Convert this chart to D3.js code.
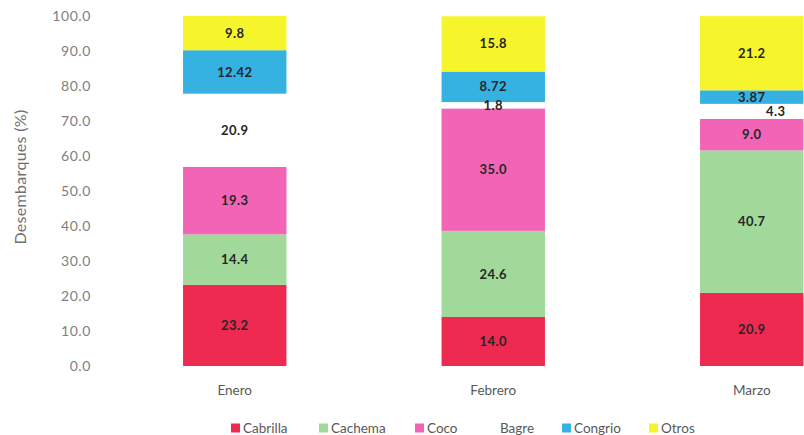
<!DOCTYPE html>
<html>
<head>
<meta charset="utf-8">
<script src="https://cdn.jsdelivr.net/npm/d3@7"></script>
<style>
  body { margin: 0; background: #fff; }
  svg { font-family: Lato, "Open Sans", sans-serif; }
</style>
</head>
<body>
<svg id="chart" width="804" height="435"></svg>
<script>
// data
var months = ["Enero", "Febrero", "Marzo"];
var species = ["Cabrilla", "Cachema", "Coco", "Bagre", "Congrio", "Otros"];
var cabrilla = [23.2, 14.0, 20.9];
var cachema = [14.4, 24.6, 40.7];
var coco = [19.3, 35.0, 9.0];
var bagre = [20.9, 1.8, 4.3];
var congrio = [12.42, 8.72, 3.87];
var otros = [9.8, 15.8, 21.2];
var labels = [
  ["23.2", "14.0", "20.9"],
  ["14.4", "24.6", "40.7"],
  ["19.3", "35.0", "9.0"],
  ["20.9", "1.8", "4.3"],
  ["12.42", "8.72", "3.87"],
  ["9.8", "15.8", "21.2"]
];
var yTicks = [0, 10, 20, 30, 40, 50, 60, 70, 80, 90, 100];
var colors = ["#ef2a50", "#a1d99b", "#f265b6", "#ffffff", "#35b1e2", "#f6f52c"];

var series = [cabrilla, cachema, coco, bagre, congrio, otros];

// build rows for stack
var rows = months.map(function (m, i) {
  var r = { month: m };
  species.forEach(function (s, j) { r[s] = series[j][i]; });
  return r;
});

var stack = d3.stack().keys(species);
var stacked = stack(rows);

var svg = d3.select("#chart");

var x = d3.scaleBand()
    .domain(months)
    .range([105.5, 881])
    .paddingInner(0.6)
    .paddingOuter(0.3);

var y = d3.scaleLinear()
    .domain([0, 100])
    .range([366, 16]);

// y axis (no line, just labels)
var yAxis = d3.axisLeft(y)
    .tickValues(yTicks)
    .tickFormat(d3.format(".1f"))
    .tickSize(0)
    .tickPadding(0);

var gy = svg.append("g")
    .attr("transform", "translate(91,0)")
    .call(yAxis);
gy.select(".domain").remove();
gy.selectAll("text")
    .attr("fill", "#808080")
    .style("font-family", "Lato, sans-serif")
    .style("font-size", "14px")
    .style("letter-spacing", "0.6px");

svg.append("text")
    .attr("transform", "translate(26," + 177 + ") rotate(-90)")
    .attr("text-anchor", "middle")
    .attr("fill", "#707070")
    .style("font-size", "16px")
    .style("letter-spacing", "0.3px")
    .text("Desembarques (%)");

// bars
var layer = svg.selectAll(".layer")
    .data(stacked)
    .enter().append("g")
    .attr("class", "layer")
    .attr("fill", function (d, i) { return colors[i]; });

layer.selectAll("rect")
    .data(function (d) { return d; })
    .enter().append("rect")
    .attr("x", function (d) { return x(d.data.month); })
    .attr("y", function (d) { return y(d[1]); })
    .attr("width", x.bandwidth())
    .attr("height", function (d) { return y(d[0]) - y(d[1]); });

// value labels - if a label sits too close to the one above it, push it right
var labelData = [];
stacked.forEach(function (s, i) {
  s.forEach(function (v, k) {
    var cy = (y(v[0]) + y(v[1])) / 2;
    var dx = 0;
    if (i < stacked.length - 1) {
      var up = stacked[i + 1][k];
      var cyUp = (y(up[0]) + y(up[1])) / 2;
      if (cy - cyUp < 15) dx = 24;
    }
    labelData.push({ v: v, txt: labels[i][k], cy: cy, dx: dx });
  });
});

svg.append("g").selectAll("text")
    .data(labelData)
    .enter().append("text")
    .attr("x", function (d) { return x(d.v.data.month) + x.bandwidth() / 2 + d.dx; })
    .attr("y", function (d) { return d.cy; })
    .attr("dy", "0.35em")
    .attr("text-anchor", "middle")
    .attr("fill", "#262626")
    .style("font-size", "13px")
    .style("font-weight", "bold")
    .style("letter-spacing", "0.4px")
    .text(function (d) { return d.txt; });

// x labels
svg.selectAll(".xl")
    .data(months)
    .enter().append("text")
    .attr("class", "xl")
    .attr("x", function (d) { return x(d) + x.bandwidth() / 2; })
    .attr("y", 395)
    .attr("text-anchor", "middle")
    .attr("fill", "#595959")
    .style("font-size", "13.5px")
    .text(function (d) { return d; });

// legend
var legendX = [231, 319, 415, 488, 562, 649];
var legend = svg.selectAll(".leg")
    .data(species)
    .enter().append("g")
    .attr("class", "leg")
    .attr("transform", function (d, i) { return "translate(" + legendX[i] + ",428)"; });

legend.append("rect")
    .attr("x", 0)
    .attr("y", -4.5)
    .attr("width", 9)
    .attr("height", 9)
    .attr("fill", function (d, i) { return colors[i]; });

legend.append("text")
    .attr("x", 12)
    .attr("dy", "0.35em")
    .attr("fill", "#595959")
    .style("font-size", "13.5px")
    .text(function (d) { return d; });
</script>
</body>
</html>
